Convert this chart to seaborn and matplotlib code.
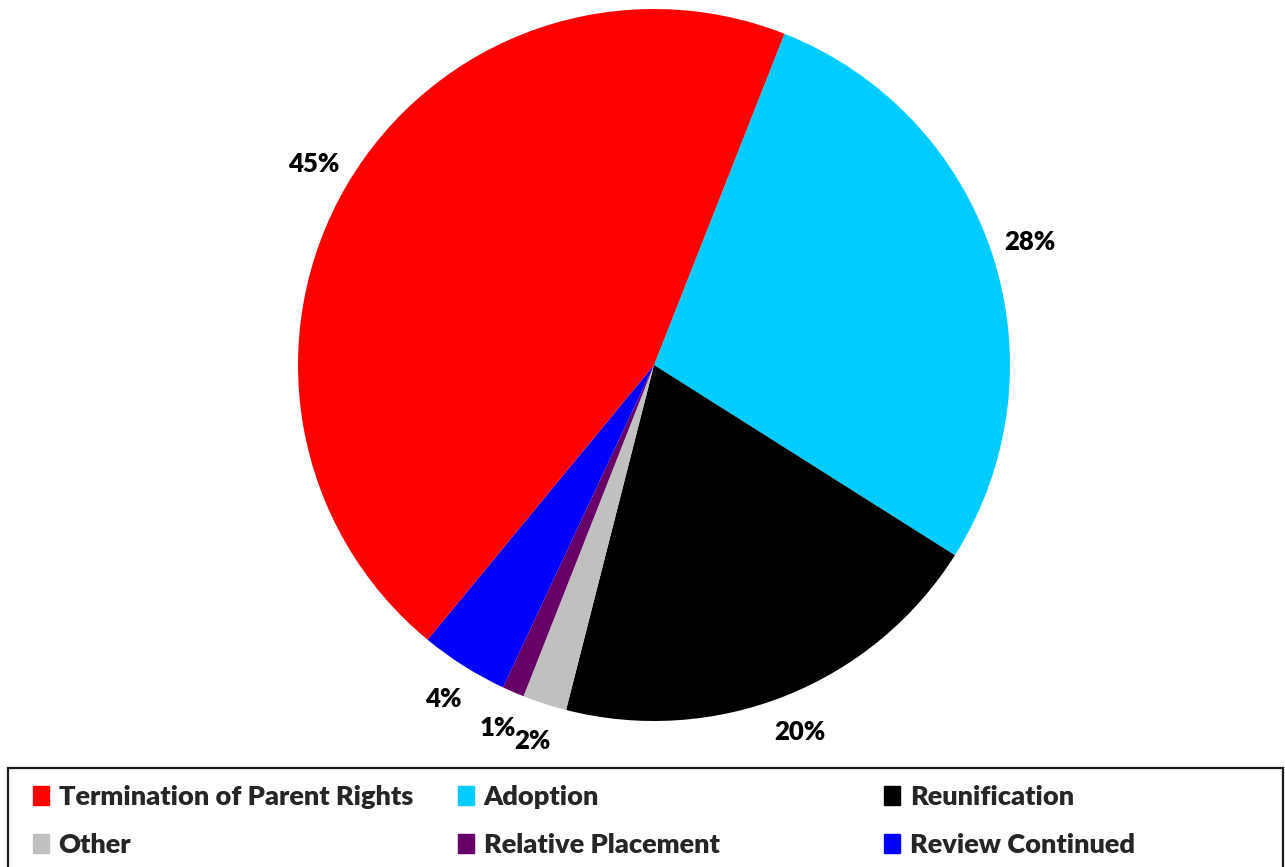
import matplotlib
matplotlib.use("Agg")
import matplotlib.pyplot as plt
import matplotlib.patches as mpatches
import seaborn as sns

# pie order (clockwise from the top-right boundary)
categories = ["Adoption", "Reunification", "Other", "Relative Placement",
              "Review Continued", "Termination of Parent Rights"]
values = [28, 20, 2, 1, 4, 45]
colors = ["#00CCFF", "#000000", "#C0C0C0", "#660066", "#0000FF", "#FF0000"]

# legend columns (each column holds two rows)
legend_columns = [["Termination of Parent Rights", "Other"],
                  ["Adoption", "Relative Placement"],
                  ["Reunification", "Review Continued"]]

sns.set_theme(style="white")
plt.rcParams["font.family"] = ["Lato", "DejaVu Sans"]

fig = plt.figure(figsize=(12.85, 8.67), dpi=100)
W, H = 1285, 867
cx, cy, R = 654, 365, 356
ax = fig.add_axes([(cx - R) / W, (H - cy - R) / H, 2 * R / W, 2 * R / H])

wedges, texts, autotexts = ax.pie(
    values, colors=colors, startangle=68.5, counterclock=False,
    autopct=lambda p: f"{p:.0f}%", pctdistance=1.11,
    wedgeprops=dict(linewidth=0),
    textprops=dict(fontsize=18.5, fontweight="heavy", color="black"))
ax.set_xlim(-1, 1)
ax.set_ylim(-1, 1)
ax.set_aspect("auto")
ax.axis("off")

# legend frame
frame = mpatches.Rectangle((8 / W, -0.05), 1275 / W, (H - 768) / H + 0.05,
                           transform=fig.transFigure, fill=False,
                           edgecolor="#1a1a1a", linewidth=1.6)
fig.add_artist(frame)

lookup = dict(zip(categories, colors))
col_x = [33, 458, 884]
for x, col in zip(col_x, legend_columns):
    handles = [mpatches.Patch(color=lookup[c], label=c) for c in col]
    fig.legend(handles=handles, ncol=1, frameon=False,
               bbox_to_anchor=(x / W, 1 - 785 / H), loc="upper left",
               prop=dict(size=19.5, weight="heavy"),
               handlelength=0.6, handleheight=0.7, handletextpad=0.35,
               labelspacing=0.87, borderpad=0.0, borderaxespad=0.0)

fig.savefig("out.png", dpi=100)
